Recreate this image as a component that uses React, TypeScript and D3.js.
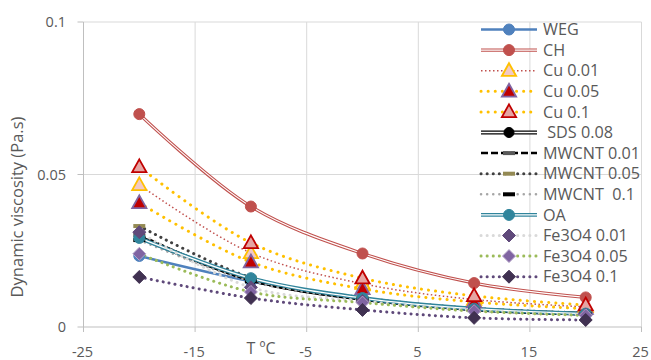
import React from "react";
import * as d3 from "d3";

const temps = [-20, -10, 0, 10, 20];
const xTicks = [-25, -15, -5, 5, 15, 25];
const yTicks = [0, 0.05, 0.1];
const yTickLabels = ["0", "0.05", "0.1"];

const seriesNames = ["WEG", "CH", "Cu 0.01", "Cu 0.05", "Cu 0.1", " SDS 0.08", "MWCNT 0.01", "MWCNT 0.05", "MWCNT  0.1", "OA", "Fe3O4 0.01", "Fe3O4 0.05", "Fe3O4 0.1"];

const weg = [0.0233, 0.015, 0.009, 0.0056, 0.0041];
const ch = [0.0698, 0.0395, 0.0241, 0.0144, 0.0097];
const cu001 = [0.0466, 0.0243, 0.0142, 0.009, 0.0066];
const cu005 = [0.0407, 0.0213, 0.0125, 0.0082, 0.006];
const cu01 = [0.0525, 0.0276, 0.016, 0.0102, 0.0072];
const sds = [0.0295, 0.0155, 0.0092, 0.0058, 0.0043];
const mw001 = [0.0302, 0.0152, 0.0093, 0.006, 0.0045];
const mw005 = [0.0331, 0.0162, 0.0096, 0.0061, 0.0046];
const mw01 = [0.0285, 0.015, 0.009, 0.0058, 0.0043];
const oa = [0.0292, 0.016, 0.0095, 0.006, 0.0044];
const fe001 = [0.0311, 0.013, 0.0085, 0.0055, 0.004];
const fe005 = [0.024, 0.0115, 0.008, 0.0052, 0.0038];
const fe01 = [0.0164, 0.0095, 0.0056, 0.003, 0.0023];

const allValues = [weg, ch, cu001, cu005, cu01, sds, mw001, mw005, mw01, oa, fe001, fe005, fe01];

type Style = {
  stroke: string; width: number; dash?: string; cap?: string; double?: boolean;
  marker: string; mFill: string; mStroke: string; mSize: number;
};

const styles: Style[] = [
  { stroke: "#4F81BD", width: 2.5, marker: "circle", mFill: "#4F81BD", mStroke: "#4F81BD", mSize: 5.5 },
  { stroke: "#C0504D", width: 1.1, double: true, marker: "circle", mFill: "#C0504D", mStroke: "#C0504D", mSize: 5.5 },
  { stroke: "#C0504D", width: 1.5, dash: "1.5 2.5", marker: "triangle", mFill: "#F2C9C4", mStroke: "#FFC000", mSize: 7.5 },
  { stroke: "#FFC000", width: 3, dash: "0.1 7", cap: "round", marker: "triangle", mFill: "#C00000", mStroke: "#8064A2", mSize: 7.5 },
  { stroke: "#FFC000", width: 3, dash: "0.1 7", cap: "round", marker: "triangle", mFill: "#E6A5A3", mStroke: "#C00000", mSize: 7.5 },
  { stroke: "#000000", width: 1.3, double: true, marker: "circle", mFill: "#000000", mStroke: "#000000", mSize: 5 },
  { stroke: "#000000", width: 2.5, dash: "7 3", marker: "dash", mFill: "#595959", mStroke: "#595959", mSize: 6 },
  { stroke: "#404040", width: 3, dash: "0.1 6", cap: "round", marker: "dash", mFill: "#948A54", mStroke: "#948A54", mSize: 6 },
  { stroke: "#A6A6A6", width: 2.5, dash: "0.1 6", cap: "round", marker: "dash", mFill: "#000000", mStroke: "#000000", mSize: 6 },
  { stroke: "#31859C", width: 1.3, double: true, marker: "circle", mFill: "#31859C", mStroke: "#31859C", mSize: 5.5 },
  { stroke: "#D9D9D9", width: 3, dash: "0.1 6", cap: "round", marker: "diamond", mFill: "#604A7B", mStroke: "#604A7B", mSize: 6.5 },
  { stroke: "#9BBB59", width: 3, dash: "0.1 6", cap: "round", marker: "diamond", mFill: "#8064A2", mStroke: "#B3A2C7", mSize: 6.5 },
  { stroke: "#5F497A", width: 3, dash: "0.1 6", cap: "round", marker: "diamond", mFill: "#403151", mStroke: "#403151", mSize: 6.5 },
];

const W = 651, H = 360;
const left = 83.5, right = 641.5, top = 22, bottom = 327;
const font = "'Open Sans', sans-serif";
const textColor = "#595959";

const x = d3.scaleLinear().domain([-25, 25]).range([left, right]);
const y = d3.scaleLinear().domain([0, 0.1]).range([bottom, top]);

function Marker({ s, cx, cy }: { s: Style; cx: number; cy: number }) {
  const r = s.mSize;
  if (s.marker === "circle")
    return <circle cx={cx} cy={cy} r={r} fill={s.mFill} stroke={s.mStroke} strokeWidth={1} />;
  if (s.marker === "triangle") {
    const p = `${cx},${cy - r} ${cx + r * 0.95},${cy + r * 0.7} ${cx - r * 0.95},${cy + r * 0.7}`;
    return <polygon points={p} fill={s.mFill} stroke={s.mStroke} strokeWidth={1.8} strokeLinejoin="miter" />;
  }
  if (s.marker === "diamond") {
    const p = `${cx},${cy - r} ${cx + r},${cy} ${cx},${cy + r} ${cx - r},${cy}`;
    return <polygon points={p} fill={s.mFill} stroke={s.mStroke} strokeWidth={1} />;
  }
  return <rect x={cx - r} y={cy - 2} width={2 * r} height={4} fill={s.mFill} />;
}

function SeriesLine({ d, s }: { d: string; s: Style }) {
  if (s.double) {
    return (
      <g>
        <path d={d} fill="none" stroke={s.stroke} strokeWidth={s.width * 3} />
        <path d={d} fill="none" stroke="#ffffff" strokeWidth={s.width} />
      </g>
    );
  }
  return (
    <path d={d} fill="none" stroke={s.stroke} strokeWidth={s.width}
      strokeDasharray={s.dash} strokeLinecap={(s.cap as any) || "butt"} />
  );
}

export default function App() {
  const line = d3.line<number>()
    .x((_, i) => x(temps[i]))
    .y((v) => y(v))
    .curve(d3.curveCatmullRom.alpha(0.5));

  const legX1 = 481, legX2 = 537, legMid = 509, legText = 543;
  const legY0 = 29.5, legStep = 20.6;

  return (
    <svg width={W} height={H} style={{ position: "absolute", left: 0, top: 0, background: "#fff" }}>
      {/* gridlines */}
      {xTicks.slice(1).map((t) => (
        <line key={"vx" + t} x1={x(t)} x2={x(t)} y1={top} y2={bottom} stroke="#D9D9D9" strokeWidth={1} />
      ))}
      {yTicks.slice(1).map((t) => (
        <line key={"hy" + t} x1={left} x2={right} y1={y(t)} y2={y(t)} stroke="#D9D9D9" strokeWidth={1} />
      ))}
      {/* axes */}
      <line x1={left} x2={left} y1={top} y2={bottom} stroke="#BFBFBF" strokeWidth={1} />
      <line x1={left} x2={right} y1={bottom} y2={bottom} stroke="#BFBFBF" strokeWidth={1} />
      {yTicks.map((t) => (
        <line key={"ty" + t} x1={left - 6} x2={left} y1={y(t)} y2={y(t)} stroke="#BFBFBF" />
      ))}
      {xTicks.map((t) => (
        <line key={"tx" + t} x1={x(t)} x2={x(t)} y1={bottom} y2={bottom + 5} stroke="#BFBFBF" />
      ))}
      {yTicks.map((t, i) => (
        <text key={"yl" + t} x={66} y={y(t)} dy="0.35em" textAnchor="end" fontFamily={font} fontSize={14.5} fill={textColor}>
          {yTickLabels[i]}
        </text>
      ))}
      {xTicks.map((t) => (
        <text key={"xl" + t} x={x(t) - 1} y={352} dy="0.35em" textAnchor="middle" fontFamily={font} fontSize={14.5} fill={textColor}>
          {t}
        </text>
      ))}
      <text x={261} y={348} dy="0.35em" textAnchor="middle" fontFamily={font} fontSize={16} fill={textColor}>T ºC</text>
      <text transform={`translate(17,207) rotate(-90)`} dy="0.35em" textAnchor="middle" fontFamily={font} fontSize={16.5} fill={textColor}>
        Dynamic viscosity (Pa.s)
      </text>

      {/* series */}
      {allValues.map((vals, i) => (
        <SeriesLine key={"l" + i} d={line(vals) || ""} s={styles[i]} />
      ))}
      {allValues.map((vals, i) => (
        <g key={"m" + i}>
          {vals.map((v, j) => (
            <Marker key={j} s={styles[i]} cx={x(temps[j])} cy={y(v)} />
          ))}
        </g>
      ))}

      {/* legend */}
      {seriesNames.map((name, i) => {
        const ly = legY0 + i * legStep;
        const d = `M${legX1},${ly}L${legX2},${ly}`;
        return (
          <g key={"leg" + i}>
            <SeriesLine d={d} s={styles[i]} />
            <Marker s={styles[i]} cx={legMid} cy={ly} />
            <text x={legText} y={ly} dy="0.35em" fontFamily={font} fontSize={16.2} fill={textColor} style={{ whiteSpace: "pre" }}>
              {name}
            </text>
          </g>
        );
      })}
    </svg>
  );
}
